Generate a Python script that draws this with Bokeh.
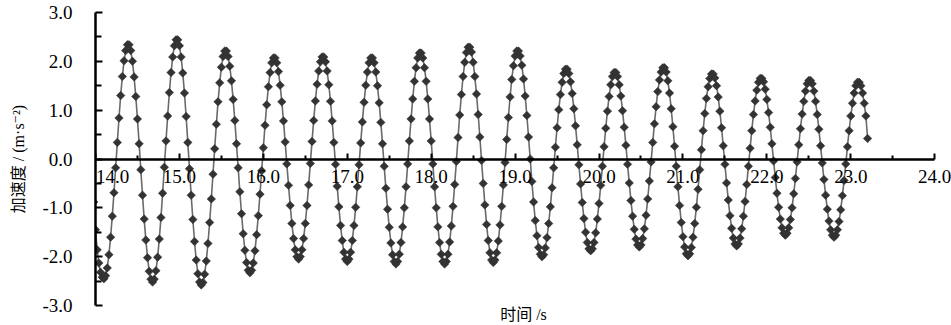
import numpy as np
from bokeh.plotting import figure
from bokeh.models import FixedTicker, Label, Range1d, LinearAxis
from bokeh.embed import file_html
from bokeh.resources import INLINE

# sampling grid of the record (s)
T_START = 13.98
DT = 0.02

# acceleration samples (m/s^2), one line per half cycle
acc = [
    -0.88, -1.45, -1.86, -2.13, -2.32, -2.42,
    -2.45, -2.39, -2.23, -1.96, -1.60, -1.17, -0.69, -0.18, 0.34, 0.84, 1.30, 1.69, 2.01, 2.22, 2.34,
    2.34, 2.22, 2.00, 1.68, 1.28, 0.82, 0.31, -0.22, -0.74, -1.23, -1.66, -2.02, -2.30, -2.46,
    -2.52, -2.46, -2.29, -2.01, -1.64, -1.20, -0.70, -0.17, 0.37, 0.88, 1.36, 1.77, 2.09, 2.32, 2.44,
    2.44, 2.32, 2.09, 1.76, 1.35, 0.87, 0.34, -0.20, -0.74, -1.24, -1.69, -2.07, -2.35, -2.52,
    -2.58, -2.53, -2.36, -2.09, -1.73, -1.30, -0.82, -0.31, 0.21, 0.71, 1.17, 1.56, 1.88, 2.10, 2.21,
    2.21, 2.10, 1.90, 1.60, 1.22, 0.79, 0.31, -0.18, -0.67, -1.12, -1.53, -1.87, -2.12, -2.28,
    -2.33, -2.28, -2.13, -1.88, -1.55, -1.16, -0.72, -0.24, 0.23, 0.69, 1.11, 1.48, 1.77, 1.97, 2.07,
    2.07, 1.97, 1.79, 1.51, 1.17, 0.78, 0.35, -0.10, -0.54, -0.95, -1.32, -1.63, -1.86, -2.00,
    -2.05, -2.00, -1.86, -1.63, -1.32, -0.95, -0.53, -0.09, 0.36, 0.79, 1.19, 1.53, 1.80, 1.99, 2.09,
    2.09, 1.99, 1.80, 1.52, 1.18, 0.78, 0.34, -0.11, -0.56, -0.98, -1.36, -1.67, -1.91, -2.05,
    -2.10, -2.05, -1.91, -1.67, -1.36, -0.99, -0.57, -0.12, 0.33, 0.76, 1.16, 1.51, 1.78, 1.97, 2.07,
    2.07, 1.97, 1.78, 1.50, 1.15, 0.75, 0.31, -0.15, -0.60, -1.03, -1.40, -1.72, -1.96, -2.10,
    -2.15, -2.10, -1.95, -1.71, -1.39, -1.00, -0.57, -0.10, 0.37, 0.82, 1.23, 1.59, 1.87, 2.07, 2.17,
    2.17, 2.07, 1.87, 1.59, 1.23, 0.82, 0.37, -0.10, -0.57, -1.00, -1.39, -1.71, -1.95, -2.10,
    -2.15, -2.10, -1.95, -1.70, -1.37, -0.97, -0.52, -0.05, 0.44, 0.90, 1.32, 1.69, 1.98, 2.18, 2.29,
    2.29, 2.19, 1.98, 1.69, 1.33, 0.91, 0.45, -0.03, -0.50, -0.94, -1.34, -1.67, -1.92, -2.07,
    -2.12, -2.07, -1.92, -1.68, -1.35, -0.97, -0.53, -0.07, 0.40, 0.85, 1.27, 1.63, 1.91, 2.11, 2.21,
    2.21, 2.11, 1.92, 1.64, 1.29, 0.89, 0.45, 0.00, -0.46, -0.88, -1.26, -1.57, -1.81, -1.95,
    -2.00, -1.96, -1.82, -1.61, -1.32, -0.98, -0.59, -0.18, 0.24, 0.64, 1.01, 1.32, 1.57, 1.75, 1.84,
    1.84, 1.75, 1.58, 1.34, 1.03, 0.68, 0.29, -0.12, -0.51, -0.89, -1.22, -1.50, -1.71, -1.84,
    -1.88, -1.84, -1.71, -1.51, -1.23, -0.91, -0.54, -0.15, 0.25, 0.63, 0.98, 1.28, 1.52, 1.69, 1.77,
    1.77, 1.69, 1.52, 1.29, 0.99, 0.65, 0.28, -0.11, -0.49, -0.85, -1.17, -1.44, -1.64, -1.76,
    -1.80, -1.76, -1.63, -1.43, -1.15, -0.82, -0.45, -0.06, 0.34, 0.72, 1.07, 1.38, 1.62, 1.78, 1.87,
    1.87, 1.78, 1.60, 1.35, 1.03, 0.66, 0.26, -0.15, -0.57, -0.95, -1.30, -1.59, -1.80, -1.94,
    -1.98, -1.94, -1.81, -1.60, -1.32, -0.99, -0.62, -0.22, 0.19, 0.58, 0.93, 1.24, 1.48, 1.65, 1.74,
    1.74, 1.66, 1.50, 1.27, 0.98, 0.64, 0.27, -0.11, -0.49, -0.84, -1.16, -1.42, -1.62, -1.74,
    -1.78, -1.74, -1.62, -1.43, -1.17, -0.87, -0.52, -0.15, 0.22, 0.58, 0.91, 1.19, 1.41, 1.57, 1.65,
    1.65, 1.58, 1.43, 1.22, 0.95, 0.65, 0.31, -0.04, -0.38, -0.70, -0.99, -1.23, -1.41, -1.52,
    -1.56, -1.52, -1.41, -1.24, -1.00, -0.71, -0.40, -0.06, 0.29, 0.62, 0.92, 1.18, 1.39, 1.54, 1.61,
    1.61, 1.54, 1.39, 1.18, 0.91, 0.61, 0.27, -0.08, -0.42, -0.74, -1.03, -1.27, -1.45, -1.56,
    -1.60, -1.56, -1.45, -1.28, -1.04, -0.75, -0.44, -0.10, 0.25, 0.58, 0.88, 1.14, 1.35, 1.50, 1.57,
    1.57, 1.50, 1.35, 1.14, 0.88, 0.42,
]

x_ticks = [14, 15, 16, 17, 18, 19, 20, 21, 22, 23, 24]
x_tick_labels = ["14.0", "15.0", "16.0", "17.0", "18.0", "19.0", "20.0", "21.0", "22.0", "23.0", "24.0"]
x_minor = [14.5, 15.5, 16.5, 17.5, 18.5, 19.5, 20.5, 21.5, 22.5, 23.5]
y_ticks = [-3, -2, -1, 0, 1, 2, 3]
y_tick_labels = ["-3.0", "-2.0", "-1.0", "0.0", "1.0", "2.0", "3.0"]
y_minor = [-2.5, -1.5, -0.5, 0.5, 1.5, 2.5]
x_title = "时间 /s"
y_title = "加速度 / (m·s⁻²)"

t = np.round(T_START + DT * np.arange(len(acc)), 2)

SERIF = "Liberation Serif"
MIXED = "Liberation Serif, DejaVu Serif, Noto Sans CJK SC"

# x range runs a little past 24 so that the last tick label is not clipped;
# the axis line itself is bounded to 14..24
p = figure(width=951, height=325, x_range=Range1d(14, 24.2), y_range=Range1d(-3, 3),
           output_backend="svg", toolbar_location=None,
           min_border_left=95, min_border_right=0, min_border_top=12, min_border_bottom=19)
p.xgrid.visible = False
p.ygrid.visible = False
p.outline_line_color = None
p.background_fill_color = "white"
p.border_fill_color = "white"

p.line(t, acc, line_color="#6a6a6a", line_width=1.6)
p.scatter(t, acc, marker="square", size=6, angle=0.785,
          fill_color="#333333", line_color="#333333", line_width=0.5)

# x axis drawn through y = 0
xa = p.xaxis[0]
xa.fixed_location = 0
xa.bounds = (x_ticks[0], x_ticks[-1])
xa.ticker = FixedTicker(ticks=x_ticks, minor_ticks=x_minor)
ov = dict(zip(x_ticks, x_tick_labels))
ov[x_ticks[0]] = ""
xa.major_label_overrides = ov
xa.axis_line_width = 2.5
xa.axis_line_color = "black"
xa.major_tick_in = 6
xa.major_tick_out = 0
xa.minor_tick_in = 4
xa.minor_tick_out = 0
xa.major_tick_line_width = 2
xa.minor_tick_line_width = 2
xa.major_label_standoff = 11
xa.major_label_text_font = SERIF
xa.major_label_text_font_size = "19px"
xa.major_label_text_color = "black"

p.add_layout(Label(x=x_ticks[0], y=0, x_offset=17, y_offset=-11, text=x_tick_labels[0],
                   text_align="center", text_baseline="top", text_font=SERIF,
                   text_font_size="19px", text_color="black"))

# bottom axis carrying only the x title
xt = LinearAxis(ticker=FixedTicker(ticks=[]), axis_label=x_title)
xt.axis_line_color = None
xt.major_tick_out = 0
xt.major_tick_in = 0
xt.minor_tick_out = 0
xt.minor_tick_in = 0
xt.major_label_standoff = 0
xt.major_label_text_font_size = "0px"
xt.axis_label_standoff = 0
xt.axis_label_text_font = MIXED
xt.axis_label_text_font_size = "16px"
xt.axis_label_text_font_style = "normal"
xt.axis_label_text_color = "black"
xt.bounds = (x_ticks[0], x_ticks[-1])
p.add_layout(xt, "below")

ya = p.yaxis[0]
ya.ticker = FixedTicker(ticks=y_ticks, minor_ticks=y_minor)
ya.major_label_overrides = dict(zip(y_ticks, y_tick_labels))
ya.axis_line_width = 2.5
ya.axis_line_color = "black"
ya.major_tick_in = 7
ya.major_tick_out = 0
ya.minor_tick_in = 6
ya.minor_tick_out = 0
ya.major_tick_line_width = 2
ya.minor_tick_line_width = 2
ya.major_label_standoff = 23
ya.major_label_text_font = SERIF
ya.major_label_text_font_size = "19px"
ya.major_label_text_color = "black"
ya.axis_label = y_title
ya.axis_label_text_font = MIXED
ya.axis_label_text_font_size = "16px"
ya.axis_label_text_font_style = "normal"
ya.axis_label_text_color = "black"
ya.axis_label_standoff = 12

open("out.html", "w").write(file_html(p, INLINE))
